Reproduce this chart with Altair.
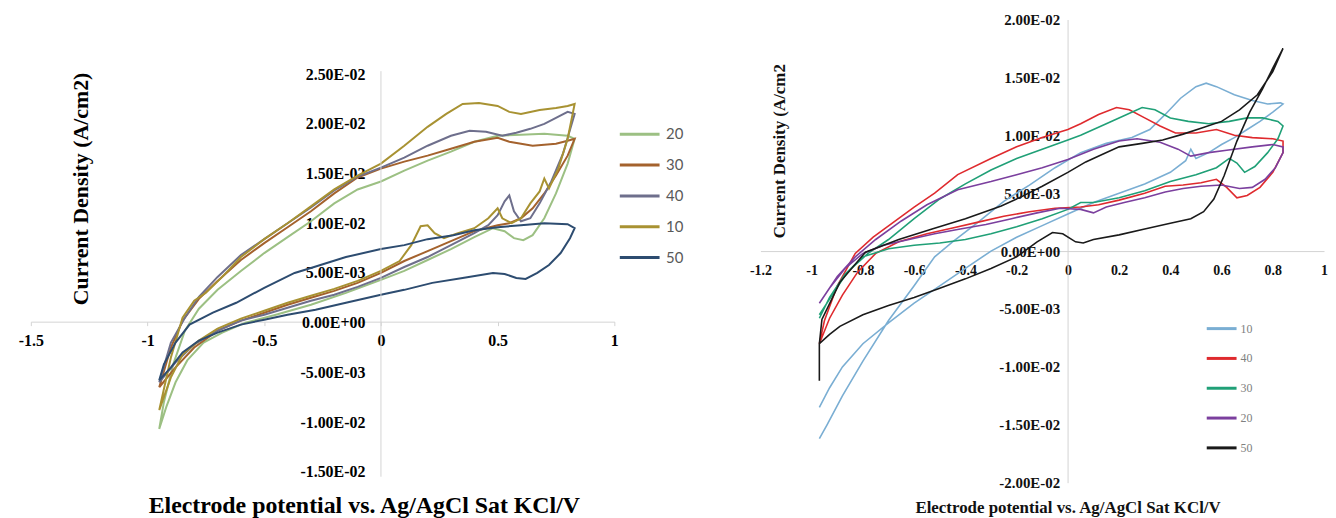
import altair as alt
import pandas as pd

# ---------------- left panel ----------------
L_SERIES = ["20", "30", "40", "10", "50"]
L_COLORS = ["#9cc083", "#a4622d", "#6e6f8c", "#a89232", "#2d4c70"]
L_XTICKS = [-1.5, -1.0, -0.5, 0.0, 0.5, 1.0]
L_YTICKS = [-0.015, -0.01, -0.005, 0.0, 0.005, 0.01, 0.015, 0.02, 0.025]

# traced loops: (potential V, current density in 1e-2 A/cm2)
L20 = [(-0.95, -1.07), (-0.92, -0.85), (-0.88, -0.60), (-0.83, -0.38), (-0.76, -0.20), (-0.68, -0.10),
       (-0.58, 0.00), (-0.45, 0.08), (-0.30, 0.18), (-0.15, 0.30), (0.00, 0.43), (0.10, 0.52), (0.20, 0.63),
       (0.30, 0.74), (0.40, 0.86), (0.48, 0.95), (0.53, 0.92), (0.57, 0.85), (0.61, 0.83), (0.65, 0.88),
       (0.70, 1.05), (0.75, 1.30), (0.80, 1.60), (0.83, 1.85), (0.80, 1.88), (0.70, 1.90), (0.60, 1.89),
       (0.50, 1.88), (0.40, 1.82), (0.30, 1.72), (0.20, 1.63), (0.10, 1.53), (0.00, 1.42), (-0.10, 1.34),
       (-0.20, 1.20), (-0.30, 1.02), (-0.40, 0.86), (-0.50, 0.70), (-0.60, 0.52), (-0.70, 0.33), (-0.78, 0.14),
       (-0.84, -0.08), (-0.89, -0.42), (-0.93, -0.80), (-0.95, -1.07)]
L30 = [(-0.95, -0.65), (-0.88, -0.45), (-0.80, -0.25), (-0.70, -0.08), (-0.60, 0.02), (-0.50, 0.10),
       (-0.40, 0.18), (-0.30, 0.25), (-0.20, 0.32), (-0.10, 0.40), (0.00, 0.50), (0.10, 0.62), (0.20, 0.72),
       (0.30, 0.82), (0.40, 0.92), (0.50, 0.98), (0.55, 1.00), (0.60, 1.05), (0.65, 1.15), (0.70, 1.30),
       (0.75, 1.48), (0.80, 1.68), (0.83, 1.85), (0.80, 1.83), (0.75, 1.80), (0.70, 1.79), (0.65, 1.78),
       (0.60, 1.80), (0.55, 1.82), (0.50, 1.86), (0.40, 1.82), (0.30, 1.75), (0.20, 1.68), (0.10, 1.62),
       (0.00, 1.55), (-0.10, 1.46), (-0.20, 1.30), (-0.30, 1.12), (-0.40, 0.96), (-0.50, 0.80), (-0.60, 0.63),
       (-0.70, 0.42), (-0.78, 0.24), (-0.85, 0.02), (-0.90, -0.25), (-0.95, -0.65)]
L40 = [(-0.95, -0.60), (-0.88, -0.40), (-0.80, -0.22), (-0.70, -0.08), (-0.60, 0.02), (-0.50, 0.08),
       (-0.40, 0.15), (-0.30, 0.22), (-0.20, 0.28), (-0.10, 0.36), (0.00, 0.45), (0.10, 0.56), (0.20, 0.66),
       (0.30, 0.78), (0.40, 0.90), (0.46, 0.98), (0.50, 1.08), (0.53, 1.22), (0.55, 1.28), (0.57, 1.12),
       (0.60, 1.02), (0.64, 1.05), (0.68, 1.20), (0.73, 1.42), (0.78, 1.70), (0.83, 2.10), (0.80, 2.12),
       (0.75, 2.06), (0.70, 2.00), (0.64, 1.95), (0.58, 1.91), (0.52, 1.88), (0.45, 1.92), (0.38, 1.93),
       (0.30, 1.88), (0.20, 1.78), (0.10, 1.66), (0.00, 1.56), (-0.10, 1.47), (-0.20, 1.33), (-0.30, 1.16),
       (-0.40, 1.00), (-0.50, 0.84), (-0.60, 0.68), (-0.70, 0.46), (-0.78, 0.26), (-0.84, 0.05), (-0.90, -0.20),
       (-0.95, -0.60)]
L10 = [(-0.95, -0.88), (-0.90, -0.55), (-0.85, -0.32), (-0.78, -0.18), (-0.70, -0.06), (-0.60, 0.04),
       (-0.50, 0.12), (-0.40, 0.20), (-0.30, 0.27), (-0.20, 0.34), (-0.10, 0.42), (0.00, 0.52), (0.08, 0.62),
       (0.13, 0.78), (0.17, 0.97), (0.20, 0.98), (0.23, 0.90), (0.27, 0.85), (0.33, 0.90), (0.40, 0.95),
       (0.46, 1.05), (0.50, 1.15), (0.52, 1.05), (0.56, 1.00), (0.60, 1.05), (0.64, 1.20), (0.68, 1.32),
       (0.70, 1.45), (0.72, 1.35), (0.76, 1.55), (0.80, 1.85), (0.83, 2.20), (0.80, 2.18), (0.75, 2.16),
       (0.68, 2.14), (0.60, 2.10), (0.55, 2.12), (0.50, 2.18), (0.42, 2.21), (0.35, 2.20), (0.28, 2.10),
       (0.20, 1.97), (0.10, 1.78), (0.00, 1.60), (-0.10, 1.48), (-0.20, 1.34), (-0.30, 1.17), (-0.40, 1.00),
       (-0.50, 0.84), (-0.60, 0.66), (-0.68, 0.46), (-0.75, 0.30), (-0.80, 0.22), (-0.85, 0.05), (-0.90, -0.35),
       (-0.95, -0.88)]
L50 = [(-0.95, -0.58), (-0.90, -0.45), (-0.85, -0.30), (-0.78, -0.18), (-0.70, -0.10), (-0.60, -0.02),
       (-0.50, 0.03), (-0.40, 0.08), (-0.28, 0.13), (-0.15, 0.20), (0.00, 0.28), (0.10, 0.33), (0.22, 0.40),
       (0.35, 0.45), (0.48, 0.50), (0.53, 0.49), (0.58, 0.45), (0.62, 0.44), (0.67, 0.50), (0.72, 0.58),
       (0.77, 0.70), (0.81, 0.85), (0.83, 0.95), (0.80, 0.99), (0.70, 1.00), (0.60, 0.98), (0.50, 0.96),
       (0.40, 0.93), (0.31, 0.88), (0.20, 0.84), (0.10, 0.78), (0.00, 0.74), (-0.15, 0.66), (-0.30, 0.55),
       (-0.37, 0.50), (-0.50, 0.35), (-0.62, 0.20), (-0.72, 0.10), (-0.82, -0.02), (-0.88, -0.20),
       (-0.93, -0.42), (-0.95, -0.58)]
L_CURVES = {"20": L20, "30": L30, "40": L40, "10": L10, "50": L50}

# ---------------- right panel ----------------
R_SERIES = ["10", "40", "30", "20", "50"]
R_COLORS = ["#7aaed3", "#df2a2e", "#20a077", "#7b3f9e", "#1a1a1a"]
R_XTICKS = [-1.2, -1.0, -0.8, -0.6, -0.4, -0.2, 0.0, 0.2, 0.4, 0.6, 0.8, 1.0]
R_YTICKS = [-0.02, -0.015, -0.01, -0.005, 0.0, 0.005, 0.01, 0.015, 0.02]

R10 = [(-0.97, -1.35), (-0.93, -1.18), (-0.88, -1.00), (-0.80, -0.80), (-0.70, -0.62), (-0.60, -0.45),
       (-0.50, -0.30), (-0.40, -0.15), (-0.30, 0.00), (-0.20, 0.12), (-0.10, 0.22), (0.00, 0.32), (0.10, 0.42),
       (0.20, 0.50), (0.30, 0.58), (0.40, 0.68), (0.46, 0.78), (0.48, 0.88), (0.50, 0.80), (0.55, 0.85),
       (0.60, 0.92), (0.65, 0.98), (0.70, 1.05), (0.75, 1.12), (0.80, 1.20), (0.84, 1.27), (0.83, 1.28),
       (0.78, 1.27), (0.72, 1.30), (0.65, 1.35), (0.58, 1.42), (0.54, 1.45), (0.50, 1.42), (0.44, 1.32),
       (0.38, 1.18), (0.32, 1.05), (0.25, 0.98), (0.15, 0.93), (0.05, 0.85), (-0.05, 0.72), (-0.15, 0.57),
       (-0.25, 0.43), (-0.35, 0.25), (-0.45, 0.08), (-0.52, -0.05), (-0.60, -0.30), (-0.70, -0.60),
       (-0.80, -0.95), (-0.88, -1.25), (-0.94, -1.50), (-0.97, -1.62)]
R40 = [(-0.97, -0.80), (-0.93, -0.58), (-0.88, -0.38), (-0.82, -0.18), (-0.75, -0.02), (-0.66, 0.08),
       (-0.55, 0.15), (-0.45, 0.20), (-0.35, 0.25), (-0.25, 0.30), (-0.15, 0.34), (-0.05, 0.37), (0.05, 0.38),
       (0.12, 0.40), (0.20, 0.44), (0.30, 0.50), (0.38, 0.56), (0.45, 0.57), (0.52, 0.59), (0.58, 0.62),
       (0.62, 0.55), (0.66, 0.46), (0.70, 0.48), (0.75, 0.55), (0.80, 0.68), (0.84, 0.85), (0.84, 0.95),
       (0.80, 0.97), (0.72, 0.98), (0.65, 1.00), (0.58, 1.05), (0.50, 1.02), (0.42, 1.02), (0.36, 1.08),
       (0.30, 1.15), (0.24, 1.22), (0.19, 1.24), (0.12, 1.18), (0.05, 1.10), (0.00, 1.05), (-0.10, 0.98),
       (-0.20, 0.90), (-0.30, 0.80), (-0.43, 0.66), (-0.52, 0.50), (-0.60, 0.38), (-0.68, 0.25), (-0.76, 0.12),
       (-0.83, -0.02), (-0.90, -0.30), (-0.95, -0.60), (-0.97, -0.80)]
R30 = [(-0.97, -0.58), (-0.93, -0.40), (-0.87, -0.20), (-0.80, -0.05), (-0.70, 0.02), (-0.60, 0.05),
       (-0.50, 0.07), (-0.40, 0.10), (-0.30, 0.15), (-0.20, 0.21), (-0.10, 0.28), (0.00, 0.36), (0.05, 0.42),
       (0.10, 0.42), (0.20, 0.46), (0.30, 0.52), (0.40, 0.60), (0.50, 0.66), (0.58, 0.72), (0.63, 0.80),
       (0.66, 0.76), (0.69, 0.68), (0.73, 0.73), (0.78, 0.85), (0.82, 0.97), (0.84, 1.08), (0.82, 1.12),
       (0.76, 1.15), (0.70, 1.15), (0.63, 1.12), (0.55, 1.10), (0.47, 1.12), (0.40, 1.15), (0.34, 1.22),
       (0.29, 1.24), (0.23, 1.18), (0.15, 1.10), (0.05, 1.00), (0.00, 0.96), (-0.10, 0.88), (-0.20, 0.80),
       (-0.30, 0.70), (-0.40, 0.58), (-0.50, 0.45), (-0.60, 0.28), (-0.70, 0.10), (-0.78, -0.02),
       (-0.86, -0.18), (-0.92, -0.38), (-0.97, -0.55)]
R20 = [(-0.97, -0.45), (-0.93, -0.32), (-0.87, -0.15), (-0.80, -0.02), (-0.72, 0.05), (-0.62, 0.10),
       (-0.52, 0.15), (-0.42, 0.19), (-0.32, 0.23), (-0.22, 0.28), (-0.12, 0.33), (-0.03, 0.37), (0.05, 0.36),
       (0.10, 0.33), (0.15, 0.38), (0.22, 0.42), (0.30, 0.46), (0.38, 0.51), (0.45, 0.54), (0.52, 0.56),
       (0.60, 0.57), (0.67, 0.54), (0.72, 0.55), (0.77, 0.62), (0.81, 0.72), (0.84, 0.85), (0.84, 0.90),
       (0.80, 0.92), (0.72, 0.90), (0.62, 0.87), (0.55, 0.85), (0.48, 0.82), (0.43, 0.88), (0.36, 0.94),
       (0.27, 0.97), (0.20, 0.95), (0.10, 0.88), (0.00, 0.79), (-0.10, 0.72), (-0.20, 0.66), (-0.30, 0.60),
       (-0.43, 0.53), (-0.55, 0.40), (-0.65, 0.26), (-0.75, 0.10), (-0.83, -0.05), (-0.90, -0.22), (-0.97, -0.45)]
R50 = [(-0.97, -1.12), (-0.97, -0.80), (-0.93, -0.72), (-0.89, -0.65), (-0.80, -0.55), (-0.70, -0.47),
       (-0.60, -0.40), (-0.50, -0.32), (-0.40, -0.24), (-0.30, -0.15), (-0.20, -0.05), (-0.12, 0.08),
       (-0.06, 0.16), (-0.02, 0.15), (0.03, 0.08), (0.06, 0.07), (0.10, 0.10), (0.20, 0.14), (0.30, 0.19),
       (0.40, 0.24), (0.48, 0.28), (0.53, 0.34), (0.57, 0.45), (0.61, 0.65), (0.66, 0.95), (0.71, 1.20),
       (0.76, 1.40), (0.80, 1.58), (0.84, 1.75), (0.80, 1.55), (0.74, 1.35), (0.67, 1.22), (0.60, 1.12),
       (0.52, 1.06), (0.45, 1.01), (0.37, 0.96), (0.29, 0.93), (0.20, 0.90), (0.14, 0.84), (0.07, 0.77),
       (0.00, 0.68), (-0.10, 0.56), (-0.18, 0.47), (-0.26, 0.39), (-0.40, 0.28), (-0.53, 0.19), (-0.66, 0.10),
       (-0.79, -0.01), (-0.89, -0.27), (-0.96, -0.59), (-0.97, -0.80)]
R_CURVES = {"10": R10, "40": R40, "30": R30, "20": R20, "50": R50}

TITLE_X = "Electrode potential vs. Ag/AgCl Sat KCl/V"
L_TITLE_Y = "Current Density (A/cm2)"
R_TITLE_Y = "Current Density (A/cm2"


def frame(curves):
    rows = []
    for name, pts in curves.items():
        for i, (x, y) in enumerate(pts):
            rows.append({"series": name, "i": i, "x": x, "y": y / 100.0})
    return pd.DataFrame(rows)


SCI = ("(datum.value < 0 ? '-' : '') + replace(replace(format(abs(datum.value), '.2e'), "
       "'e-', 'E-0'), 'e+', 'E+0')")
PLAIN = "'' + datum.value"
SERIF = "Liberation Serif"
AXIS_GREY = "#d4d4d4"

# ---------- left chart ----------
LW, LH = 587, 466
L_XDOM = [-1.5, 1.0]
L_YDOM = [-0.0161, 0.0305]
lx_scale = alt.Scale(domain=L_XDOM, nice=False, zero=False)
ly_scale = alt.Scale(domain=L_YDOM, nice=False, zero=False)

lx_axis = alt.Axis(
    orient="bottom", offset=-162, values=L_XTICKS, labelExpr=PLAIN, grid=False,
    domainColor=AXIS_GREY, tickColor=AXIS_GREY, tickSize=4, labelPadding=7,
    labelFont=SERIF, labelFontWeight="bold", labelFontSize=16, labelColor="black",
    labelOverlap=False, labelFlush=False,
    title=TITLE_X, titleFont=SERIF, titleFontWeight="bold", titleFontSize=24, titleColor="black",
    titleX=335, titleY=185, titleAlign="center", titleBaseline="middle")
ly_axis = alt.Axis(
    orient="left", offset=-352, values=L_YTICKS, labelExpr=SCI, grid=False,
    domain=False, ticks=False, labelPadding=16,
    labelFont=SERIF, labelFontWeight="bold", labelFontSize=16, labelColor="black",
    labelOverlap=False, labelFlush=False,
    title=L_TITLE_Y, titleFont=SERIF, titleFontWeight="bold", titleFontSize=22, titleColor="black",
    titleAngle=270, titleX=-302, titleY=170, titleAlign="center", titleBaseline="middle")

left_lines = alt.Chart(frame(L_CURVES)).mark_line(strokeWidth=2).encode(
    x=alt.X("x:Q", scale=lx_scale, axis=lx_axis),
    y=alt.Y("y:Q", scale=ly_scale, axis=ly_axis),
    color=alt.Color("series:N", scale=alt.Scale(domain=L_SERIES, range=L_COLORS), legend=alt.Legend(
        orient="none", legendX=601, legendY=104, title=None, padding=0,
        symbolType="M-2,0H2", symbolSize=400, symbolStrokeWidth=3,
        labelFont="Lato", labelFontSize=15, labelColor="#595959", labelOffset=15, rowPadding=11)),
    order="i:Q",
)

# the y axis line of the left panel spans only the labelled range
left_axis_line = alt.Chart(pd.DataFrame({"x": [0.0], "y": [-0.0155], "y2": [0.0253]})).mark_rule(
    color=AXIS_GREY, strokeWidth=1).encode(
    x=alt.X("x:Q", scale=lx_scale, axis=lx_axis),
    y=alt.Y("y:Q", scale=ly_scale, axis=ly_axis),
    y2="y2:Q",
)

left = alt.layer(left_lines, left_axis_line).properties(width=LW, height=LH)

# ---------- right chart ----------
RW, RH = 567, 466
R_XDOM = [-1.2, 1.0]
R_YDOM = [-0.02, 0.02]

right = alt.Chart(frame(R_CURVES)).mark_line(strokeWidth=1.6).encode(
    x=alt.X("x:Q", scale=alt.Scale(domain=R_XDOM, nice=False, zero=False), axis=alt.Axis(
        orient="bottom", offset=-233, values=R_XTICKS, labelExpr=PLAIN, grid=False,
        domainColor=AXIS_GREY, ticks=False, labelPadding=13,
        labelFont=SERIF, labelFontWeight="bold", labelFontSize=14, labelColor="#111111",
        labelOverlap=False, labelFlush=False,
        title=TITLE_X, titleFont=SERIF, titleFontWeight="bold", titleFontSize=17, titleColor="#111111",
        titleX=309, titleY=258, titleAlign="center", titleBaseline="middle")),
    y=alt.Y("y:Q", scale=alt.Scale(domain=R_YDOM, nice=False, zero=False), axis=alt.Axis(
        orient="left", offset=-309, values=R_YTICKS, labelExpr=SCI, grid=False,
        domainColor=AXIS_GREY, ticks=False, labelPadding=8,
        labelFont=SERIF, labelFontWeight="bold", labelFontSize=15, labelColor="#111111",
        labelOverlap=False, labelFlush=False,
        title=R_TITLE_Y, titleFont=SERIF, titleFontWeight="bold", titleFontSize=17, titleColor="#111111",
        titleAngle=270, titleX=-290, titleY=132, titleAlign="center", titleBaseline="middle")),
    color=alt.Color("series:N", scale=alt.Scale(domain=R_SERIES, range=R_COLORS), legend=alt.Legend(
        orient="none", legendX=455, legendY=302, title=None, padding=0,
        symbolType="M-2,0H2", symbolSize=225, symbolStrokeWidth=3,
        labelFont="Liberation Sans Narrow", labelFontSize=12, labelColor="#808080", labelOffset=10,
        rowPadding=15)),
    order="i:Q",
).properties(width=RW, height=RH)

chart = alt.hconcat(left, right, spacing=65).resolve_scale(
    x="independent", y="independent", color="independent"
).properties(
    padding={"left": 10, "top": 3, "right": 0, "bottom": 0}
).configure_view(strokeWidth=0)

chart.save("out.html", embed_options={"renderer": "svg", "actions": False})
